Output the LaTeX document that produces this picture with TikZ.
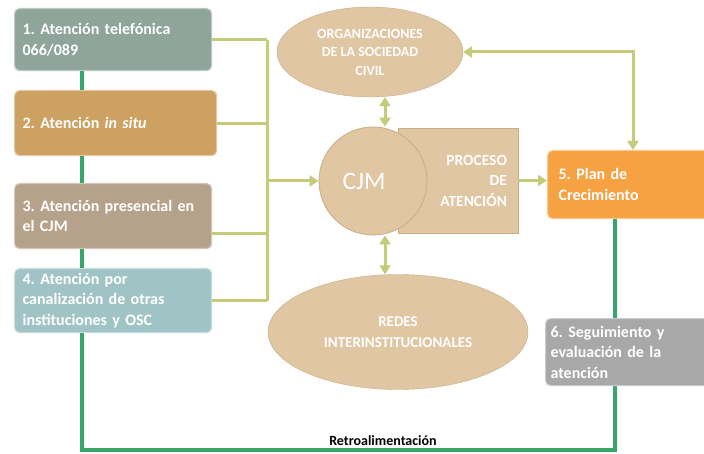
\documentclass[tikz,border=0pt]{standalone}
\usepackage{fontspec}
\setmainfont{Carlito}
\frenchspacing
\usetikzlibrary{positioning,calc,arrows.meta,shapes.geometric}
\definecolor{telc}{RGB}{143,164,155}
\definecolor{situc}{RGB}{205,161,98}
\definecolor{presc}{RGB}{182,161,139}
\definecolor{canalc}{RGB}{160,196,198}
\definecolor{planc}{RGB}{246,161,66}
\definecolor{segc}{RGB}{168,168,168}
\definecolor{tanc}{RGB}{224,198,162}
\definecolor{tanline}{RGB}{200,172,132}
\definecolor{feedc}{RGB}{196,204,122}
\definecolor{backc}{RGB}{58,165,104}

\begin{document}
\begin{tikzpicture}[x=1pt, y=-1pt,
    box/.style={rectangle, rounded corners=5pt, text width=181pt, inner xsep=8pt,
      align=left, text=white, line width=1.2pt, anchor=north west,
      font=\fontsize{16}{20.5}\selectfont\bfseries},
    blob/.style={ellipse, fill=tanc, draw=tanline, inner sep=0pt, text=white,
      align=center, font=\fontsize{14}{18.5}\selectfont\bfseries},
    feed/.style={draw=feedc, line width=3pt},
    back/.style={draw=backc, line width=3.2pt},
    >={Triangle[length=9pt,width=11pt]}]

  \useasboundingbox (0,0) rectangle (704,454);
  \fill[white] (0,0) rectangle (704,454);
  \clip (0,0) rectangle (704,454);

  \node[box, fill=telc, draw=telc!60!white, minimum height=62pt] (tel) at (14,8)
    {1. Atención telefónica\\066/089};
  \node[box, fill=situc, draw=situc!60!white, minimum height=65pt, text width=186pt] (situ) at (14,90)
    {2. Atención \textit{in situ}};
  \node[box, fill=presc, draw=presc!60!white, minimum height=65pt] (pres) at (14,183)
    {3. Atención presencial en\\el CJM};
  \node[box, fill=canalc, draw=canalc!60!white, minimum height=64pt] (canal) at (14,268)
    {4. Atención por\\canalización de otras\\instituciones y OSC};

  \node[blob, minimum width=186pt, minimum height=90pt] (osc) at (370,52)
    {ORGANIZACIONES\\DE LA SOCIEDAD\\CIVIL};
  \node[rectangle, fill=tanc, draw=tanline, minimum width=120pt, minimum height=105pt] (proc) at (458,180.5) {};
  \node[circle, fill=tanc, draw=tanline, line width=0.8pt, minimum size=108pt, text=white,
    font=\fontsize{25}{25}\selectfont] (cjm) at (373,181) {CJM\hspace*{18pt}};
  \node[anchor=east, inner sep=0pt, align=right, text=white,
    font=\fontsize{15.5}{20.5}\selectfont\bfseries] (proct) at ([xshift=-11pt]proc.east)
    {PROCESO\\DE\\ATENCIÓN};
  \node[blob, minimum width=260pt, minimum height=115pt, font=\fontsize{15}{21}\selectfont\bfseries]
    (redes) at (398,332) {REDES\\INTERINSTITUCIONALES};

  \node[box, fill=planc, draw=planc!60!white, minimum height=68pt, text width=140pt, inner xsep=11pt]
    (plan) at (547,150) {5. Plan de\\Crecimiento};

  \coordinate (fl) at (82,450);
  \coordinate (fr) at (615,450);
  \foreach \a/\b in {tel/situ, situ/pres, pres/canal}
    \draw[back] (\a.south -| fl) -- (\b.north -| fl);
  \draw[back] (canal.south -| fl) -- (fl) -- (fr) -- (plan.south -| fr);

  \node[box, fill=segc, draw=segc!60!white, minimum height=67pt, text width=153pt, inner xsep=5pt]
    (seg) at (545,318) {6. Seguimiento y\\evaluación de la\\atención};
  \node[inner sep=0pt, font=\fontsize{14}{16}\selectfont\bfseries] (retro) at (383,441)
    {Retroalimentación};

  \coordinate (bus) at (267,38);
  \foreach \n in {tel, situ, canal}
    \draw[feed] (\n.east) -- (\n.east -| bus);
  \draw[feed] ([yshift=-17pt]pres.east) -- ([yshift=-17pt]pres.east -| bus);
  \draw[feed] (tel.east -| bus) -- (canal.east -| bus);
  \draw[feed, ->] (cjm.west -| bus) -- (cjm.west);

  \draw[feed, <->] ([xshift=12pt]cjm.north) -- ([xshift=12pt]cjm.north |- osc.south);
  \draw[feed, <->] ([xshift=12pt]cjm.south) -- ([xshift=12pt]cjm.south |- redes.north);
  \draw[feed, ->] (proc.east) -- (proc.east -| plan.west);
  \draw[feed, <->] (osc.east) -| ($(plan.north west)+(86,0)$);
\end{tikzpicture}
\end{document}
